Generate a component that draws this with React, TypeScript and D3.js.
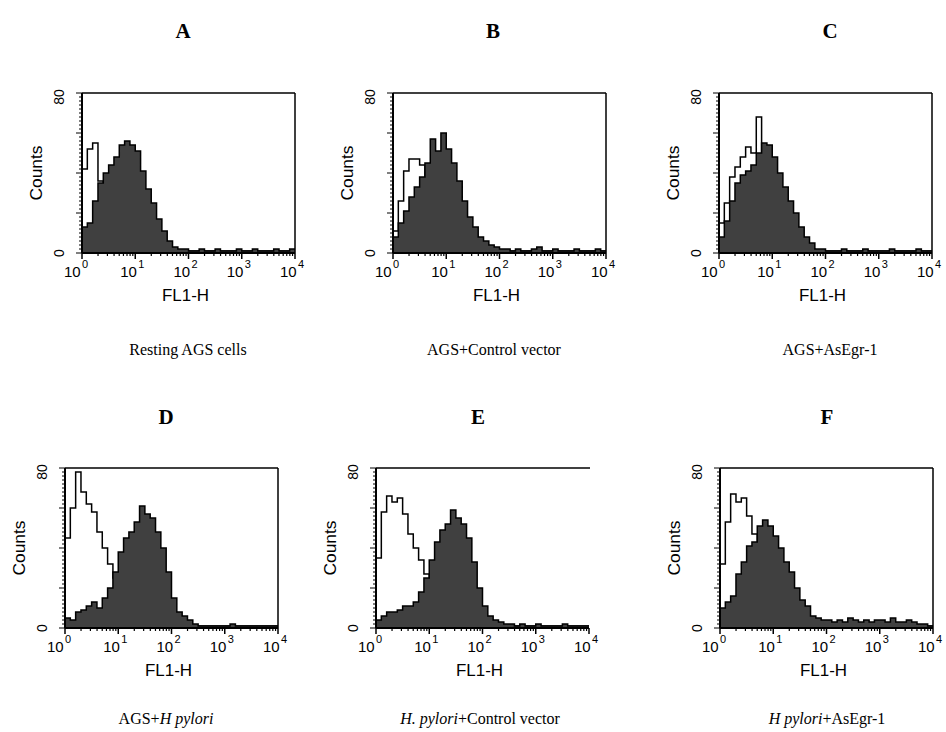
import * as d3 from "d3";

// histogram counts, 40 bins spread evenly over 10^0 .. 10^4 (0.1 decade each)
const aOpen = [42, 52, 55, 36, 30, 24, 18, 13, 9, 6, 4, 3, 2, 1, 1, 1, 1, 1, 1, 1, 1, 1, 1, 1, 1, 1, 1, 1, 1, 1, 1, 1, 1, 1, 1, 1, 1, 1, 1, 1];
const aFill = [13, 15, 26, 35, 40, 44, 48, 54, 56, 54, 51, 41, 32, 25, 17, 11, 6, 3, 2, 2, 1, 1, 2, 1, 1, 2, 1, 1, 1, 2, 1, 1, 2, 1, 1, 1, 2, 1, 1, 2];
const bOpen = [11, 26, 41, 47, 47, 44, 36, 28, 20, 14, 10, 7, 5, 3, 2, 1, 1, 1, 1, 1, 1, 1, 1, 1, 1, 1, 1, 1, 1, 1, 1, 1, 1, 1, 1, 1, 1, 1, 1, 1];
const bFill = [8, 15, 21, 28, 33, 38, 45, 57, 51, 60, 52, 45, 36, 26, 18, 13, 8, 6, 4, 3, 2, 2, 1, 2, 1, 1, 2, 3, 1, 1, 2, 1, 1, 1, 2, 1, 1, 1, 2, 1];
const cOpen = [15, 25, 38, 43, 48, 53, 50, 68, 50, 42, 34, 26, 18, 12, 8, 5, 3, 2, 1, 1, 1, 1, 1, 1, 1, 1, 1, 1, 1, 1, 1, 1, 1, 1, 1, 1, 1, 1, 1, 1];
const cFill = [8, 16, 26, 35, 39, 41, 44, 50, 55, 54, 48, 40, 33, 26, 20, 13, 8, 5, 2, 2, 1, 1, 1, 2, 1, 1, 1, 2, 1, 1, 1, 1, 2, 1, 1, 1, 1, 2, 1, 1];
const dOpen = [45, 60, 78, 68, 62, 58, 48, 40, 32, 25, 18, 12, 8, 5, 3, 2, 1, 1, 1, 1, 1, 1, 1, 1, 1, 1, 1, 1, 1, 1, 1, 1, 1, 1, 1, 1, 1, 1, 1, 1];
const dFill = [5, 4, 8, 9, 11, 13, 10, 15, 20, 28, 38, 45, 48, 53, 61, 57, 55, 48, 40, 28, 15, 8, 6, 4, 2, 1, 1, 1, 1, 1, 1, 2, 1, 1, 1, 1, 1, 1, 1, 1];
const eOpen = [35, 58, 66, 63, 65, 57, 47, 40, 34, 27, 20, 14, 9, 6, 4, 2, 1, 1, 1, 1, 1, 1, 1, 1, 1, 1, 1, 1, 1, 1, 1, 1, 1, 1, 1, 1, 1, 1, 1, 1];
const eFill = [4, 6, 8, 8, 9, 11, 11, 13, 18, 25, 34, 43, 49, 52, 59, 55, 52, 45, 33, 20, 11, 6, 4, 3, 2, 2, 1, 2, 1, 1, 2, 1, 1, 1, 1, 2, 1, 1, 1, 1];
const fOpen = [32, 53, 67, 63, 65, 56, 47, 38, 30, 24, 17, 12, 8, 5, 3, 2, 1, 1, 1, 1, 1, 1, 1, 1, 1, 1, 1, 1, 1, 1, 1, 1, 1, 1, 1, 1, 1, 1, 1, 1];
const fFill = [10, 13, 16, 27, 33, 41, 43, 51, 54, 51, 46, 40, 33, 28, 20, 14, 11, 6, 5, 4, 4, 3, 4, 3, 5, 4, 3, 4, 3, 4, 4, 3, 5, 3, 3, 4, 3, 2, 2, 1];

const decades = [0, 1, 2, 3, 4];
const yTickLabels = [0, 80];
const panelLetters = ["A", "B", "C", "D", "E", "F"];
const subtitles = [
  [{ t: "Resting AGS cells" }],
  [{ t: "AGS+Control vector" }],
  [{ t: "AGS+AsEgr-1" }],
  [{ t: "AGS+" }, { t: "H pylori", i: true }],
  [{ t: "H. pylori", i: true }, { t: "+Control vector" }],
  [{ t: "H pylori", i: true }, { t: "+AsEgr-1" }],
];

const W = 213;
const H = 160;
const layout = [
  { x: 82, y: 93, tx: 183, sx: 188, open: aOpen, fill: aFill, right: true },
  { x: 393, y: 93, tx: 493, sx: 494, open: bOpen, fill: bFill, right: true },
  { x: 719, y: 93, tx: 830, sx: 830, open: cOpen, fill: cFill, right: true },
  { x: 65, y: 468, tx: 166, sx: 166, open: dOpen, fill: dFill, right: true },
  { x: 376, y: 468, tx: 478, sx: 480, open: eOpen, fill: eFill, right: false },
  { x: 720, y: 468, tx: 827, sx: 827, open: fOpen, fill: fFill, right: true },
];

const x = d3.scaleLog().domain([1, 1e4]).range([0, W]);
const y = d3.scaleLinear().domain([0, 80]).range([H, 0]);

function steps(vals: number[]) {
  const n = vals.length;
  const pts = vals.map((v, i) => [10 ** ((i * 4) / n), v]);
  pts.push([1e4, vals[n - 1]]);
  return pts as [number, number][];
}
const area = d3.area<[number, number]>().x((d) => x(d[0])).y0(H).y1((d) => y(d[1])).curve(d3.curveStepAfter);
const line = d3.line<[number, number]>().x((d) => x(d[0])).y((d) => y(d[1])).curve(d3.curveStepAfter);

const minorX: number[] = [];
for (let dd = 0; dd < 4; dd++) for (let k = 2; k < 10; k++) minorX.push(k * 10 ** dd);
const yMinor = d3.range(0, 81, 2);
const sans = "Liberation Sans, Arial, sans-serif";
const serif = "Liberation Serif, Times New Roman, serif";

function Panel({ p, idx }: { p: any; idx: number }) {
  const o = steps(p.open);
  const f = steps(p.fill);
  const cid = "clip" + idx;
  return (
    <g transform={`translate(${p.x},${p.y})`}>
      <defs>
        <clipPath id={cid}>
          <rect x={0} y={0} width={W} height={H} />
        </clipPath>
      </defs>
      <g clipPath={`url(#${cid})`}>
        <path d={area(o) || ""} fill="#fff" />
        <path d={line(o) || ""} fill="none" stroke="#000" strokeWidth={1.5} />
        <path d={area(f) || ""} fill="#404040" />
        <path d={line(f) || ""} fill="none" stroke="#000" strokeWidth={1.5} />
      </g>
      <line x1={0} x2={W + (p.right ? 0 : 1)} y1={0} y2={0} stroke="#000" strokeWidth={1.5} />
      {p.right && <line x1={W} x2={W} y1={0} y2={H} stroke="#000" strokeWidth={1.5} />}
      <line x1={0} x2={0} y1={0} y2={H} stroke="#000" strokeWidth={2} />
      <line x1={0} x2={W} y1={H} y2={H} stroke="#000" strokeWidth={2} />
      {yMinor.map((v) => (
        <line key={"y" + v} x1={v % 20 === 0 ? -6 : -3} x2={0} y1={y(v)} y2={y(v)} stroke="#000" strokeWidth={1} />
      ))}
      {minorX.map((v) => (
        <line key={"m" + v} x1={x(v)} x2={x(v)} y1={H} y2={H + 3} stroke="#000" strokeWidth={1.2} />
      ))}
      {decades.map((dd) => (
        <line key={"M" + dd} x1={x(10 ** dd)} x2={x(10 ** dd)} y1={H} y2={H + 6} stroke="#000" strokeWidth={1.5} />
      ))}
      {decades.map((dd) => {
        const tx = x(10 ** dd) - 15 - (dd === 0 ? 3 : 0);
        return (
          <g key={"l" + dd} fontFamily={sans} fill="#000">
            <text x={tx} y={H + 24} fontSize={15}>10</text>
            <text x={tx + 18} y={H + 15} fontSize={11}>{dd}</text>
          </g>
        );
      })}
      <text x={W / 2 - 3} y={H + 48} fontSize={16} textAnchor="middle" fontFamily={sans} textLength={47} lengthAdjust="spacingAndGlyphs">FL1-H</text>
      {yTickLabels.map((v) => (
        <text key={"yl" + v} transform={`translate(-18,${v === 80 ? 4 : H}) rotate(-90)`} textAnchor="middle" fontSize={14} fontFamily={sans}>{v}</text>
      ))}
      <text transform={`translate(-40,${H / 2}) rotate(-90)`} textAnchor="middle" fontSize={16} fontFamily={sans} textLength={55} lengthAdjust="spacingAndGlyphs">Counts</text>
    </g>
  );
}

export default function App() {
  return (
    <svg width={946} height={732} style={{ position: "absolute", left: 0, top: 0, background: "#fff" }}>
      <rect width={946} height={732} fill="#fff" />
      {layout.map((p, i) => (
        <g key={i}>
          <Panel p={p} idx={i} />
          <text x={p.tx} y={i < 3 ? 38 : 424} textAnchor="middle" fontSize={21} fontWeight="bold" fontFamily={serif}>{panelLetters[i]}</text>
          <text x={p.sx} y={i < 3 ? 355 : 724} textAnchor="middle" fontSize={16} fontFamily={serif}>
            {subtitles[i].map((s: any, j: number) => (
              <tspan key={j} fontStyle={s.i ? "italic" : "normal"}>{s.t}</tspan>
            ))}
          </text>
        </g>
      ))}
    </svg>
  );
}
